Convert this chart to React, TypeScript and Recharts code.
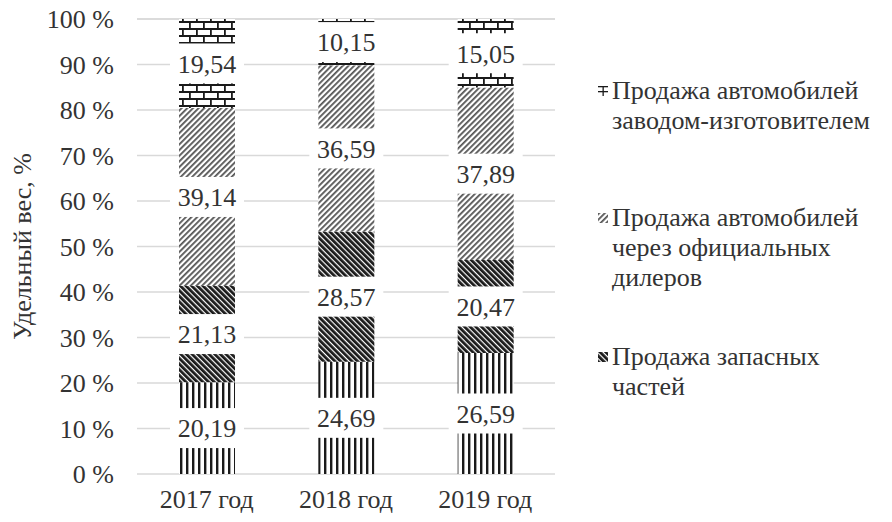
import React from 'react';
import { BarChart, Bar, XAxis, YAxis, CartesianGrid, Legend, LabelList } from 'recharts';

const categories = ['2017 год', '2018 год', '2019 год'];
const otherSales = [20.19, 24.69, 26.59];
const partsSales = [21.13, 28.57, 20.47];
const dealerSales = [39.14, 36.59, 37.89];
const factorySales = [19.54, 10.15, 15.05];
const yTicks = [0, 10, 20, 30, 40, 50, 60, 70, 80, 90, 100];

const seriesNames = {
  other: 'Прочие доходы',
  parts: 'Продажа запасных\nчастей',
  dealer: 'Продажа автомобилей\nчерез официальных\nдилеров',
  factory: 'Продажа автомобилей\nзаводом-изготовителем',
};
const legendOrder = ['factory', 'dealer', 'parts'];

const data = categories.map((category, i) => ({
  category,
  other: otherSales[i],
  parts: partsSales[i],
  dealer: dealerSales[i],
  factory: factorySales[i],
}));

const FONT = '"Liberation Serif", Tinos, "Times New Roman", "DejaVu Serif", "Noto Serif", serif';
const TEXT = '#333333';

const fmt = (v: number) => Number(v).toFixed(2).replace('.', ',');

const PatternDefs = ({ suffix }: { suffix: string }) => (
  <defs>
    <pattern id={`pStripes${suffix}`} width="6" height="6" patternUnits="userSpaceOnUse">
      <rect width="6" height="6" fill="#ffffff" />
      <rect x="0" y="0" width="2.4" height="6" fill="#1a1a1a" />
    </pattern>
    <pattern id={`pDark${suffix}`} width="4" height="4" patternUnits="userSpaceOnUse" patternTransform="rotate(-45)">
      <rect width="4" height="4" fill="#ffffff" />
      <rect x="0" y="0" width="2.8" height="4" fill="#1a1a1a" />
    </pattern>
    <pattern id={`pLight${suffix}`} width="4" height="4" patternUnits="userSpaceOnUse" patternTransform="rotate(45)">
      <rect width="4" height="4" fill="#ffffff" />
      <rect x="0" y="0" width="1.8" height="4" fill="#555555" />
    </pattern>
    <pattern id={`pBrick${suffix}`} width="14" height="14" patternUnits="userSpaceOnUse">
      <rect width="14" height="14" fill="#ffffff" />
      <rect x="0" y="0" width="14" height="2" fill="#1a1a1a" />
      <rect x="0" y="7" width="14" height="2" fill="#1a1a1a" />
      <rect x="0" y="0" width="1.8" height="7" fill="#1a1a1a" />
      <rect x="7" y="7" width="1.8" height="7" fill="#1a1a1a" />
    </pattern>
    <pattern id={`pBrickS${suffix}`} width="10" height="5" patternUnits="userSpaceOnUse">
      <rect width="10" height="5" fill="#ffffff" />
      <rect x="0" y="0" width="10" height="1.3" fill="#1a1a1a" />
      <rect x="4.5" y="1" width="1.3" height="4" fill="#1a1a1a" />
    </pattern>
  </defs>
);

const patternOf: Record<string, string> = {
  other: 'pStripes',
  parts: 'pDark',
  dealer: 'pLight',
  factory: 'pBrickS',
};

const renderBarLabel = (props: any) => {
  const { x, y, width, height, value } = props;
  const cx = Number(x) + Number(width) / 2;
  const cy = Number(y) + Number(height) / 2;
  return (
    <g>
      <rect x={cx - 37} y={cy - 20} width={74} height={40} fill="#ffffff" />
      <text x={cx} y={cy} dy="0.36em" textAnchor="middle" fontSize={26} style={{ fontFamily: FONT }} fill={TEXT}>
        {fmt(value)}
      </text>
    </g>
  );
};

const legendGaps = [76, 67, 49];

const renderLegend = (props: any) => {
  const payload = (props.payload || [])
    .filter((p: any) => legendOrder.includes(String(p.dataKey)))
    .sort((a: any, b: any) => legendOrder.indexOf(String(a.dataKey)) - legendOrder.indexOf(String(b.dataKey)));
  return (
    <div style={{ fontFamily: FONT, fontSize: 26, color: TEXT, lineHeight: '30px' }}>
      {payload.map((entry: any, i: number) => {
        const key = String(entry.dataKey);
        const pid = patternOf[key];
        return (
          <div key={key} style={{ display: 'flex', alignItems: 'flex-start', marginTop: legendGaps[i] || 40 }}>
            <svg width={10} height={10} style={{ marginLeft: 2, marginTop: 10, marginRight: 4, flex: 'none' }}>
              <PatternDefs suffix={`L${i}`} />
              <rect width={10} height={10} fill={`url(#${pid}L${i})`} />
            </svg>
            <span style={{ whiteSpace: 'pre' }}>{entry.value}</span>
          </div>
        );
      })}
    </div>
  );
};

export default function App() {
  return (
    <div style={{ position: 'absolute', left: 0, top: 0, width: 892, height: 522, background: '#ffffff' }}>
      <BarChart width={892} height={522} data={data} margin={{ top: 19, right: 337, bottom: 0, left: 0 }} barSize={56}>
        <PatternDefs suffix="" />
        <CartesianGrid vertical={false} stroke="#d9d9d9" strokeWidth={1.5} />
        <XAxis
          dataKey="category"
          axisLine={false}
          tickLine={false}
          tickSize={0}
          tickMargin={16}
          height={48}
          interval={0}
          tick={{ fontSize: 26, fill: TEXT, style: { fontFamily: FONT } }}
        />
        <YAxis
          domain={[0, 100]}
          ticks={yTicks}
          tickFormatter={(v: number) => `${v} %`}
          width={137}
          axisLine={false}
          tickLine={false}
          tickSize={0}
          tickMargin={23}
          interval={0}
          tick={{ fontSize: 26, fill: TEXT, style: { fontFamily: FONT } }}
          label={{
            value: 'Удельный вес, %',
            angle: -90,
            position: 'insideLeft',
            offset: 22,
            style: { textAnchor: 'middle', fontSize: 26, fill: TEXT, fontFamily: FONT },
          }}
        />
        <Legend
          layout="vertical"
          align="center"
          verticalAlign="middle"
          content={renderLegend}
          wrapperStyle={{ left: 596, top: 0, width: 296, height: 522 }}
        />
        <Bar dataKey="other" name={seriesNames.other} stackId="a" fill="url(#pStripes)" legendType="none" isAnimationActive={false}>
          <LabelList dataKey="other" content={renderBarLabel} />
        </Bar>
        <Bar dataKey="parts" name={seriesNames.parts} stackId="a" fill="url(#pDark)" isAnimationActive={false}>
          <LabelList dataKey="parts" content={renderBarLabel} />
        </Bar>
        <Bar dataKey="dealer" name={seriesNames.dealer} stackId="a" fill="url(#pLight)" isAnimationActive={false}>
          <LabelList dataKey="dealer" content={renderBarLabel} />
        </Bar>
        <Bar dataKey="factory" name={seriesNames.factory} stackId="a" fill="url(#pBrick)" isAnimationActive={false}>
          <LabelList dataKey="factory" content={renderBarLabel} />
        </Bar>
      </BarChart>
    </div>
  );
}
